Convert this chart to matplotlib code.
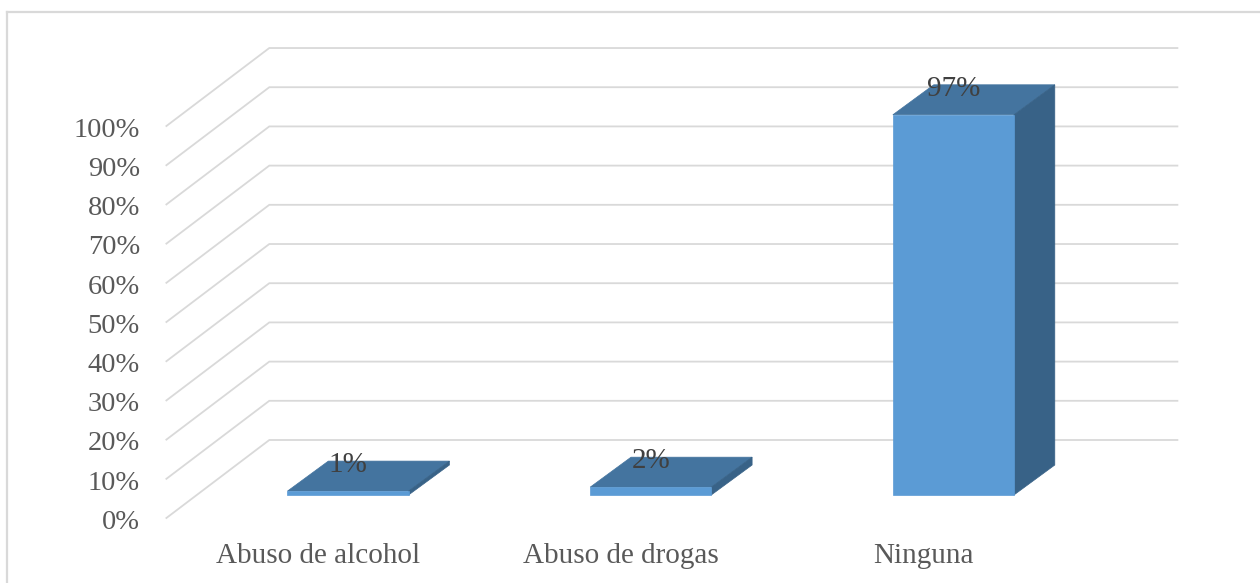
import matplotlib
matplotlib.use("Agg")
import matplotlib.pyplot as plt
from matplotlib.patches import Polygon
from matplotlib.lines import Line2D

categories = ["Abuso de alcohol", "Abuso de drogas", "Ninguna"]
values = [1, 2, 97]
ticks = [0, 10, 20, 30, 40, 50, 60, 70, 80, 90, 100]
tick_labels = [f"{t}%" for t in ticks]

FRONT = "#5B9BD5"
TOP = "#44749F"
SIDE = "#386287"
GRID = "#D9D9D9"

# oblique projection offsets, in (category units, percent units)
BAR_W = 0.4
BAR_DEPTH = (0.135, 7.65)
WALL = (0.24, 14.03)
FLOOR = (-0.1, -5.87)

plt.rcParams["font.family"] = ["Liberation Serif", "DejaVu Serif"]

fig = plt.figure(figsize=(12.6, 5.83), dpi=100)
ax = fig.add_axes([0, 0, 1, 1])
ax.set_xlim(-1.1497, 3.0129)
ax.set_ylim(-22.45, 126.28)
ax.axis("off")

# chart frame
fig.add_artist(Line2D([7 / 1260, 7 / 1260], [-0.1, 1 - 12 / 583],
                      color=GRID, lw=1.6, transform=fig.transFigure))
fig.add_artist(Line2D([7 / 1260, 1.1], [1 - 12 / 583, 1 - 12 / 583],
                      color=GRID, lw=1.6, transform=fig.transFigure))

left, right = -0.5, len(categories) - 0.5
for t, lab in zip(ticks, tick_labels):
    x0, y0 = left + FLOOR[0], t + FLOOR[1]
    x1, y1 = left + WALL[0], t + WALL[1]
    ax.plot([x0, x1, right + WALL[0]], [y0, y1, y1],
            color=GRID, lw=1.3, solid_joinstyle="miter", zorder=1)
    ax.text(x0 - 0.087, y0 - 1.1, lab, ha="right", va="center",
            fontsize=20.5, color="#595959")

dx, dy = BAR_DEPTH
for i, (name, v) in enumerate(zip(categories, values)):
    xl, xr = i - BAR_W / 2, i + BAR_W / 2
    top = Polygon([(xl, v), (xr, v), (xr + dx, v + dy), (xl + dx, v + dy)],
                  closed=True, facecolor=TOP, edgecolor=TOP, lw=0.5, zorder=3)
    side = Polygon([(xr, 0), (xr + dx, dy), (xr + dx, v + dy), (xr, v)],
                   closed=True, facecolor=SIDE, edgecolor=SIDE, lw=0.5, zorder=3)
    front = Polygon([(xl, 0), (xr, 0), (xr, v), (xl, v)],
                    closed=True, facecolor=FRONT, edgecolor=FRONT, lw=0.5, zorder=4)
    for p in (top, side, front):
        ax.add_patch(p)
    ax.text(i, v + 6.6, f"{v}%", ha="center", va="center",
            fontsize=21, color="#404040", zorder=5)
    ax.text(i + FLOOR[0], FLOOR[1] - 9.7, name, ha="center", va="center",
            fontsize=21, color="#595959")

fig.savefig("out.png", dpi=100)
